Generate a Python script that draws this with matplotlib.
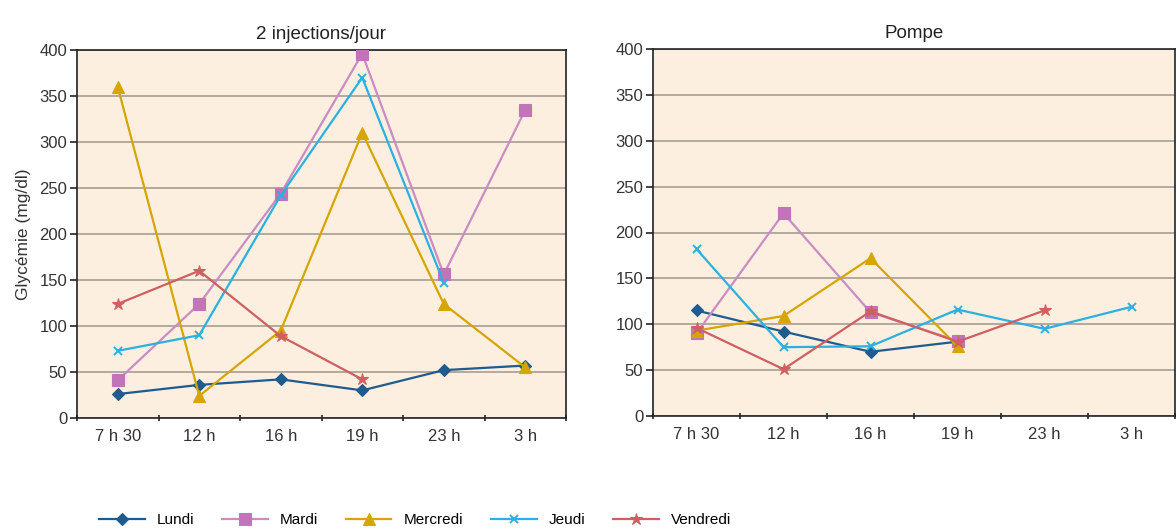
import matplotlib
matplotlib.use("Agg")
import matplotlib.pyplot as plt
import numpy as np

plt.rcParams['font.family'] = ['Liberation Sans', 'DejaVu Sans']

categories = ["7 h 30", "12 h", "16 h", "19 h", "23 h", "3 h"]
days = ["Lundi", "Mardi", "Mercredi", "Jeudi", "Vendredi"]

# 2 injections/jour
inj_lundi = [26, 36, 42, 30, 52, 57]
inj_mardi = [41, 124, 244, 396, 156, 335]
inj_mercredi = [360, 24, 95, 310, 124, 55]
inj_jeudi = [73, 90, 242, 370, 147, None]
inj_vendredi = [124, 160, 89, 42, None, None]

# Pompe
pom_lundi = [115, 92, 70, 81, None, None]
pom_mardi = [90, 221, 113, 82, None, None]
pom_mercredi = [93, 109, 172, 76, None, None]
pom_jeudi = [182, 75, 76, 116, 95, 119]
pom_vendredi = [96, 51, 114, 81, 115, None]

colors = ["#1f5b8f", "#c98cc3", "#d6a500", "#2bb0e0", "#cf5f60"]
marker_colors = ["#1f5b8f", "#c274b8", "#d6a500", "#2bb0e0", "#cf5f60"]
markers = ["D", "s", "^", "x", "*"]
msizes = [6, 8, 9, 6, 9]

bg = "#fcefdf"
grid_c = "#9e978c"


def to_arr(v):
    return np.array([np.nan if x is None else x for x in v], dtype=float)


fig = plt.figure(figsize=(11.76, 5.29), dpi=100)
W, H = 1176, 529
ax1 = fig.add_axes([77 / W, 1 - 418 / H, (566 - 77) / W, (418 - 50) / H])
ax2 = fig.add_axes([653 / W, 1 - 416 / H, (1175 - 653) / W, (416 - 49) / H])

panels = [
    (ax1, "2 injections/jour", [inj_lundi, inj_mardi, inj_mercredi, inj_jeudi, inj_vendredi]),
    (ax2, "Pompe", [pom_lundi, pom_mardi, pom_mercredi, pom_jeudi, pom_vendredi]),
]

x = np.arange(len(categories))
handles = []
for ax, title, series in panels:
    ax.set_facecolor(bg)
    for i, (name, vals) in enumerate(zip(days, series)):
        h, = ax.plot(x, to_arr(vals), color=colors[i], lw=1.6, marker=markers[i],
                     markersize=msizes[i], markerfacecolor=marker_colors[i],
                     markeredgecolor=marker_colors[i], markeredgewidth=1.4 if markers[i] == "x" else 0.8,
                     label=name, zorder=3)
        if ax is ax1:
            handles.append(h)
    ax.set_xlim(-0.5, len(categories) - 0.5)
    ax.set_ylim(0, 400)
    ax.set_yticks(np.arange(0, 401, 50))
    ax.set_xticks(np.arange(-0.5, len(categories), 1.0))
    ax.set_xticklabels([])
    ax.set_xticks(x, minor=True)
    ax.set_xticklabels(categories, minor=True)
    ax.tick_params(axis="x", which="minor", length=0, pad=8, labelsize=12, labelcolor="#333333")
    ax.tick_params(axis="x", which="major", length=5, width=1.2, direction="inout", color="#222222")
    ax.tick_params(axis="y", length=5, width=1.2, direction="out", labelsize=12, labelcolor="#333333",
                   color="#222222", pad=2)
    ax.yaxis.grid(True, color=grid_c, lw=1.1)
    ax.set_axisbelow(True)
    for s in ax.spines.values():
        s.set_color("#222222")
        s.set_linewidth(1.2)
    ax.set_title(title, fontsize=13.5, color="#222222", pad=8)

ax1.set_ylabel("Glycémie (mg/dl)", fontsize=12.5, color="#333333", labelpad=6)

fig.legend(handles=handles, labels=days, loc="center", bbox_to_anchor=(415 / W, 1 - 520 / H),
           ncol=5, frameon=False, fontsize=11, handlelength=3.0, columnspacing=1.8,
           handletextpad=0.8)

fig.savefig("out.png", dpi=100, facecolor="white")
